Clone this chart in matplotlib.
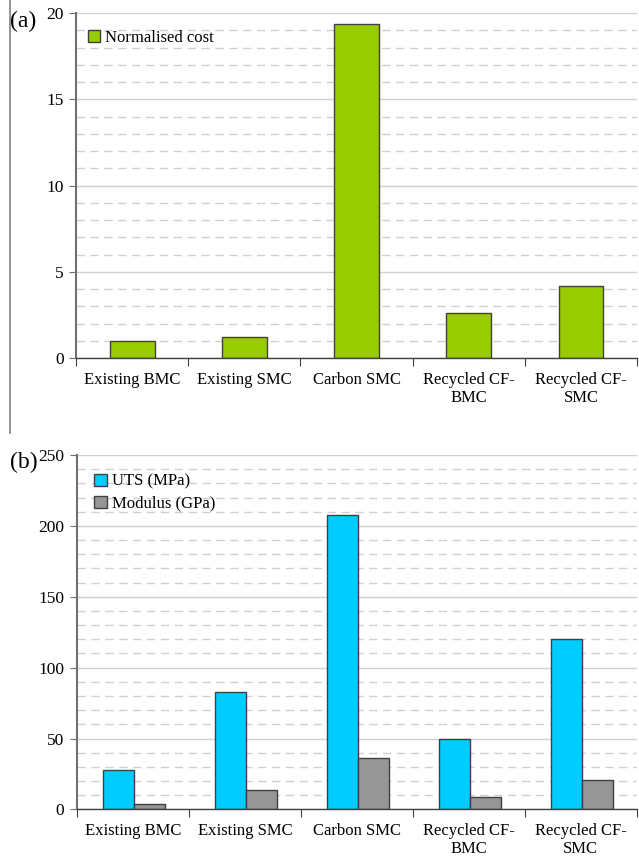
import numpy as np
import matplotlib
matplotlib.use("Agg")
from matplotlib import pyplot as plt
from matplotlib.lines import Line2D

categories = ["Existing BMC", "Existing SMC", "Carbon SMC",
              "Recycled CF-\nBMC", "Recycled CF-\nSMC"]
normalised_cost = [1.0, 1.25, 19.35, 2.62, 4.18]
uts_mpa = [28, 83, 208, 50, 120]
modulus_gpa = [4, 13.5, 36, 8.5, 20.5]

plt.rcParams['font.family'] = ['Liberation Serif', 'DejaVu Serif']
plt.rcParams['font.size'] = 12

GREEN = "#99cc00"
CYAN = "#00ccff"
GREY = "#969696"
EDGE = "#404040"
GRID = "#d0d0d0"


def style_axes(ax, ymax, major, minor):
    n = len(categories)
    ax.set_xlim(0, n)
    ax.set_ylim(0, ymax)
    ax.set_yticks(np.arange(0, ymax + major / 2, major))
    ax.set_yticks(np.arange(0, ymax + minor / 2, minor), minor=True)
    ax.yaxis.grid(True, which='major', color=GRID, lw=1.0, ls='-')
    ax.yaxis.grid(True, which='minor', color=GRID, lw=1.0, ls=(0, (6, 4)))
    ax.set_axisbelow(True)
    ax.tick_params(axis='y', which='major', length=5, color="#707070",
                   labelsize=12.5, pad=4)
    ax.tick_params(axis='y', which='minor', length=0)
    # category boundaries get the tick marks, centres get the labels
    ax.set_xticks(np.arange(0, n + 1))
    ax.set_xticklabels([])
    ax.set_xticks(np.arange(n) + 0.5, minor=True)
    ax.set_xticklabels(categories, minor=True, fontsize=12, linespacing=1.15)
    ax.tick_params(axis='x', which='major', length=6, color=EDGE)
    ax.tick_params(axis='x', which='minor', length=0, pad=10)
    for s in ['top', 'right']:
        ax.spines[s].set_visible(False)
    ax.spines['left'].set_color("#707070")
    ax.spines['left'].set_linewidth(1.5)
    ax.spines['bottom'].set_color(EDGE)
    ax.spines['bottom'].set_linewidth(1.0)


fig = plt.figure(figsize=(6.39, 8.65), dpi=100)

# (a) normalised cost
ax1 = fig.add_axes([0.119, 0.586, 0.878, 0.3988])
x = np.arange(len(categories)) + 0.5
ax1.bar(x, normalised_cost, width=0.4, color=GREEN, edgecolor=EDGE,
        linewidth=1.0, label="Normalised cost")
style_axes(ax1, 20, 5, 1)
ax1.legend(loc='upper left', bbox_to_anchor=(0.0, 0.985), frameon=False,
           handlelength=0.75, handleheight=0.75, handletextpad=0.3,
           borderaxespad=0.3, fontsize=12)

# (b) mechanical properties
ax2 = fig.add_axes([0.1205, 0.0642, 0.876, 0.4098])
w = 0.28
ax2.bar(x - w / 2 + 0.01, uts_mpa, width=w, color=CYAN, edgecolor=EDGE,
        linewidth=1.0, label="UTS (MPa)")
ax2.bar(x + w / 2 + 0.01, modulus_gpa, width=w, color=GREY, edgecolor=EDGE,
        linewidth=1.0, label="Modulus (GPa)")
style_axes(ax2, 250, 50, 10)
ax2.legend(loc='upper left', bbox_to_anchor=(0.01, 0.98), frameon=False,
           handlelength=0.75, handleheight=0.75, handletextpad=0.3,
           labelspacing=0.35, borderaxespad=0.3, fontsize=12)

fig.text(0.015, 0.988, "(a)", fontsize=17, va='top', ha='left')
fig.text(0.015, 0.478, "(b)", fontsize=17, va='top', ha='left')
fig.add_artist(Line2D([0.015, 0.015], [0.5, 1.0], color="#808080", lw=1.2,
                      transform=fig.transFigure))

fig.savefig("out.png", dpi=100)
